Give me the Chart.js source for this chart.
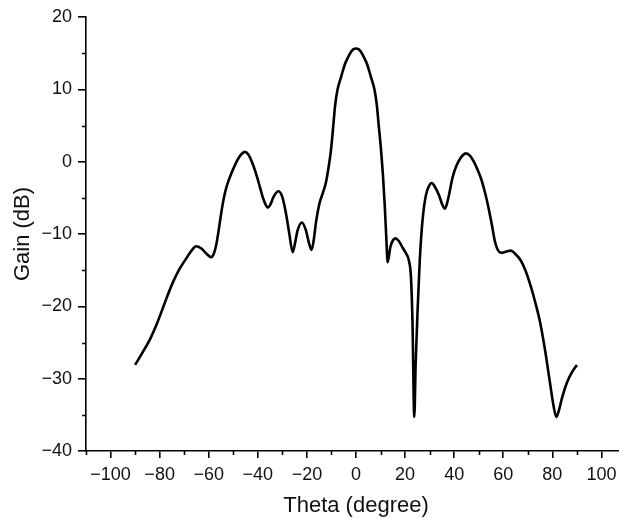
<!DOCTYPE html>
<html>
<head>
<meta charset="utf-8">
<script src="https://cdn.jsdelivr.net/npm/chart.js@4.4.1/dist/chart.umd.min.js"></script>
<style>
    html, body { margin: 0; padding: 0; background: #fff; overflow: hidden; }
    #wrap { width: 619px; height: 519px; overflow: hidden; }
</style>
</head>
<body>
<div id="wrap"><canvas id="gainChart" width="640" height="519"></canvas></div>
<script>
// pattern (rows of 10)
const theta = [
    -90, -87, -84, -81, -78, -75, -72, -69, -67, -65.2,
    -63, -61, -59, -58, -57, -56, -55, -54, -53, -52,
    -51, -50, -48.5, -47, -45.3, -44, -42.1, -40.7, -39.4, -38,
    -37, -36, -35, -33.5, -31.6, -30, -28.5, -27.2, -25.8, -24.8,
    -23.8, -22, -20.4, -19.2, -18.1, -17.2, -16.3, -14.9, -13.5, -12.2,
    -11, -10.2, -9.2, -8.5, -7.5, -6, -4.7, -4, -3, -2,
    -1, 0, 1, 2, 3, 4, 4.7, 6, 7.5, 8.5,
    9.2, 10.2, 11, 11.7, 12.3, 12.9, 14, 15, 16, 17.5,
    19, 20.4, 21.5, 22.4, 23, 23.75, 24.3, 25.1, 26, 27.1,
    28.5, 30, 30.9, 32, 33.9, 35, 36.2, 37.5, 39.4, 41,
    43, 44.8, 46.5, 48, 49.5, 51, 52.5, 54, 55.5, 56.5,
    57.5, 59.1, 61, 63.1, 65, 67, 69, 71, 73, 75,
    77, 79, 80.5, 81.6, 82.5, 84, 86, 88, 90
];
const gain = [
    -28.1, -26.4, -24.6, -22.3, -19.6, -17.0, -14.9, -13.3, -12.3, -11.7,
    -12.0, -12.7, -13.2, -12.8, -11.6, -9.6, -7.3, -5.3, -3.8, -2.7,
    -1.8, -1.0, 0.1, 0.9, 1.35, 1.05, -0.3, -1.7, -3.2, -4.9,
    -5.8, -6.35, -6.0, -4.8, -4.1, -4.9, -7.2, -9.9, -12.5, -11.2,
    -9.5, -8.4, -9.5, -11.2, -12.2, -10.8, -8.4, -5.8, -4.3, -2.8,
    -0.4, 1.6, 5.2, 7.8, 10.0, 11.8, 13.3, 13.9, 14.6, 15.2,
    15.55, 15.65, 15.55, 15.2, 14.6, 13.9, 13.3, 11.8, 10.0, 7.8,
    5.2, 1.6, -2.0, -6.0, -10.2, -13.9, -11.8, -10.9, -10.6, -11.0,
    -11.9, -12.7, -13.6, -16.0, -22.0, -35.3, -28.0, -20.5, -13.5, -8.1,
    -4.6, -3.2, -2.95, -3.4, -4.7, -5.8, -6.5, -5.2, -2.1, -0.5,
    0.7, 1.15, 0.8, 0.0, -1.1, -2.4, -4.2, -6.4, -9.0, -10.9,
    -12.0, -12.6, -12.45, -12.3, -12.8, -13.6, -15.0, -17.0, -19.4, -22.2,
    -26.0, -30.5, -33.8, -35.3, -34.6, -32.6, -30.5, -29.1, -28.1
];
const xTickStep = 10;
const yTickStep = 5;

const fontFamily = "'Liberation Sans', Arial, sans-serif";

function minus(v) {
    return v < 0 ? '\u2212' + Math.abs(v) : String(v);
}

// Chart.js has no minor ticks, so the short ones are drawn here
const minorTicks = {
    id: 'minorTicks',
    afterDraw(chart) {
        const { ctx, scales: { x, y } } = chart;
        ctx.save();
        ctx.strokeStyle = '#000';
        ctx.lineWidth = 1.6;
        ctx.beginPath();
        x.ticks.forEach((t) => {
            if (t.value % 20 !== 0) {
                const px = Math.round(x.getPixelForValue(t.value)) + 0.5;
                ctx.moveTo(px, x.top);
                ctx.lineTo(px, x.top + 4);
            }
        });
        y.ticks.forEach((t) => {
            if (t.value % 10 !== 0) {
                const py = Math.round(y.getPixelForValue(t.value)) + 0.5;
                ctx.moveTo(y.right, py);
                ctx.lineTo(y.right - 4, py);
            }
        });
        ctx.stroke();
        ctx.restore();
    }
};

new Chart(document.getElementById('gainChart').getContext('2d'), {
    type: 'line',
    data: {
        datasets: [{
            data: theta.map((t, i) => ({ x: t, y: gain[i] })),
            borderColor: '#000',
            borderWidth: 2.6,
            pointRadius: 0,
            fill: false,
            cubicInterpolationMode: 'monotone'
        }]
    },
    options: {
        responsive: false,
        animation: false,
        layout: {
            padding: { left: 10, top: 17, right: 14, bottom: 0 }
        },
        plugins: {
            legend: { display: false },
            tooltip: { enabled: false }
        },
        scales: {
            x: {
                type: 'linear',
                min: -110,
                max: 110,
                afterFit: (scale) => { scale.height = 68; },
                border: { display: true, color: '#000', width: 1.6 },
                grid: {
                    drawOnChartArea: false,
                    drawTicks: true,
                    tickLength: 7,
                    lineWidth: 1.6,
                    color: (c) => (c.tick && c.tick.value % 20 === 0 ? '#000' : 'transparent')
                },
                ticks: {
                    stepSize: xTickStep,
                    autoSkip: false,
                    maxRotation: 0,
                    padding: 6,
                    color: '#111',
                    font: { family: fontFamily, size: 18 },
                    callback: (v) => (v % 20 === 0 ? minus(v) : '')
                },
                title: {
                    display: true,
                    text: 'Theta (degree)',
                    color: '#111',
                    padding: 0,
                    font: { family: fontFamily, size: 22 }
                }
            },
            y: {
                min: -40,
                max: 20,
                afterFit: (scale) => { scale.width = 76; },
                border: { display: true, color: '#000', width: 1.6 },
                grid: {
                    drawOnChartArea: false,
                    drawTicks: true,
                    tickLength: 8,
                    lineWidth: 1.6,
                    color: (c) => (c.tick && c.tick.value % 10 === 0 ? '#000' : 'transparent')
                },
                ticks: {
                    stepSize: yTickStep,
                    padding: 6,
                    color: '#111',
                    font: { family: fontFamily, size: 18 },
                    callback: (v) => (v % 10 === 0 ? minus(v) : '')
                },
                title: {
                    display: true,
                    text: 'Gain (dB)',
                    color: '#111',
                    padding: 0,
                    font: { family: fontFamily, size: 22 }
                }
            }
        }
    },
    plugins: [minorTicks]
});
</script>
</body>
</html>
